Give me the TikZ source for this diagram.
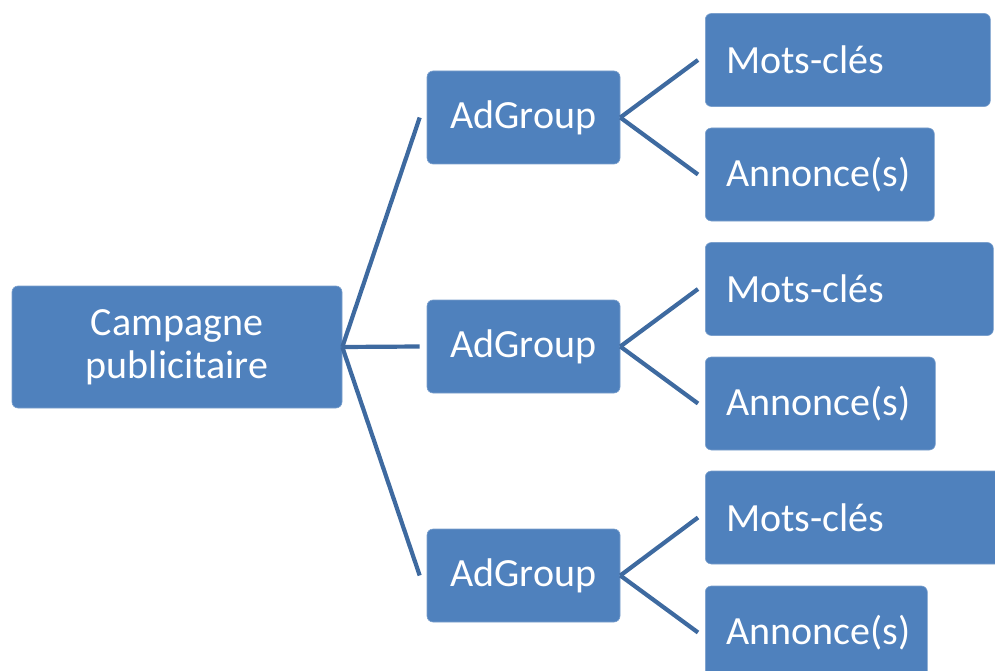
\documentclass[tikz,border=0pt]{standalone}
\usepackage{fontspec}
\setmainfont{Carlito}
\usepackage{tikz}
\usepackage{xcolor}

\definecolor{boxblue}{RGB}{79,129,189}
\definecolor{linkblue}{RGB}{62,106,160}

\begin{document}
\begin{tikzpicture}[x=1pt, y=-1pt,
  box/.style={rectangle, rounded corners=6pt, fill=boxblue, draw=boxblue!75!white,
    line width=0.6pt, text=white, inner sep=0pt, minimum height=93pt,
    font=\fontsize{40}{47}\selectfont},
  leaf/.style={box, anchor=west, align=left, inner xsep=21pt, text width=#1},
  link/.style={draw=linkblue, line width=4.2pt}]

\useasboundingbox (0,0) rectangle (995,671);
\clip (0,0) rectangle (995,671);

% Campaign
\node[box, minimum width=330pt, minimum height=122pt, align=center,
  font=\fontsize{40}{43}\selectfont] (camp) at (177,347) {Campagne\\publicitaire};

% AdGroups
\node[box, minimum width=193pt] (ad1) at (523.5,117.5) {AdGroup};
\node[box, minimum width=193pt] (ad2) at (523.5,346.5) {AdGroup};
\node[box, minimum width=193pt] (ad3) at (523.5,575.5) {AdGroup};

% Keywords and ads
\node[leaf=243pt] (mk1) at (705,60) {Mots-clés};
\node[leaf=187pt] (an1) at (705,174.5) {Annonce(s)};

\node[leaf=246pt] (mk2) at (705,289) {Mots-clés};
\node[leaf=188pt] (an2) at (705,403.5) {Annonce(s)};

\node[leaf=258pt] (mk3) at (705,517.5) {Mots-clés};
\node[leaf=180pt] (an3) at (705,632.5) {Annonce(s)};

% Links
\draw[link] (camp.east) -- ([xshift=-7pt]ad1.west);
\draw[link] (camp.east) -- ([xshift=-7pt]ad2.west);
\draw[link] (camp.east) -- ([xshift=-7pt]ad3.west);

\draw[link] (ad1.east) -- ([xshift=-7pt]mk1.west);
\draw[link] (ad1.east) -- ([xshift=-7pt]an1.west);
\draw[link] (ad2.east) -- ([xshift=-7pt]mk2.west);
\draw[link] (ad2.east) -- ([xshift=-7pt]an2.west);
\draw[link] (ad3.east) -- ([xshift=-7pt]mk3.west);
\draw[link] (ad3.east) -- ([xshift=-7pt]an3.west);

\end{tikzpicture}
\end{document}
